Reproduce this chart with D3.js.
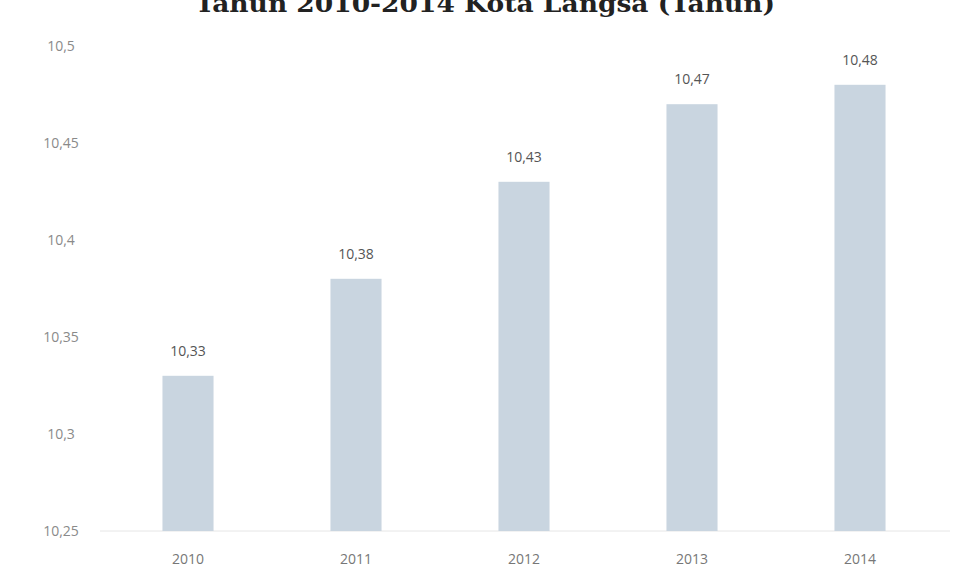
<!DOCTYPE html>
<html>
<head>
<meta charset="utf-8">
<script src="https://cdn.jsdelivr.net/npm/d3@7"></script>
<style>
  html, body { margin: 0; padding: 0; background: #fff; }
  svg { display: block; }
</style>
</head>
<body>
<svg id="chart" width="960" height="583"></svg>
<script>
// Angka harapan lama sekolah, Kota Langsa 2010-2014
const years = ["2010", "2011", "2012", "2013", "2014"];
const values = [10.33, 10.38, 10.43, 10.47, 10.48];
const yTicks = [10.25, 10.3, 10.35, 10.4, 10.45, 10.5];
const title = "Tahun 2010-2014 Kota Langsa (Tahun)";

const svg = d3.select("#chart");
const comma = v => String(v).replace(".", ",");

const x = d3.scaleBand()
  .domain(years)
  .range([104, 944])
  .paddingInner(0.696)
  .paddingOuter(0.348);

const y = d3.scaleLinear()
  .domain([10.25, 10.5])
  .range([531, 46]);

// Title (partly cut by the top edge)
svg.append("text")
  .attr("x", 485)
  .attr("y", 12)
  .attr("text-anchor", "middle")
  .attr("font-family", "DejaVu Serif")
  .attr("font-weight", "bold")
  .attr("font-size", 25)
  .attr("textLength", 580)
  .attr("lengthAdjust", "spacingAndGlyphs")
  .attr("fill", "#222")
  .text(title);

// Faint baseline
svg.append("line")
  .attr("x1", 100).attr("x2", 950)
  .attr("y1", y(10.25)).attr("y2", y(10.25))
  .attr("stroke", "#e6e6e6").attr("stroke-width", 1);

// Y axis labels
const yAxis = d3.axisLeft(y)
  .tickValues(yTicks)
  .tickSize(0)
  .tickPadding(0)
  .tickFormat(comma);
const gy = svg.append("g")
  .attr("transform", "translate(74,0)")
  .call(yAxis);
gy.select(".domain").remove();
gy.selectAll("text")
  .attr("text-anchor", "middle")
  .attr("x", -13)
  .attr("font-family", "Open Sans")
  .attr("font-size", 14)
  .attr("fill", "#8a8a8a");

// X axis labels
const xAxis = d3.axisBottom(x).tickSize(0).tickPadding(0);
const gx = svg.append("g")
  .attr("transform", "translate(0,554)")
  .call(xAxis);
gx.select(".domain").remove();
gx.selectAll("text")
  .attr("font-family", "Open Sans")
  .attr("font-size", 14)
  .attr("fill", "#777");

// Bars
svg.append("g").selectAll("rect")
  .data(values)
  .join("rect")
  .attr("x", (d, i) => x(years[i]))
  .attr("y", d => y(d))
  .attr("width", x.bandwidth())
  .attr("height", d => y(10.25) - y(d))
  .attr("fill", "#c9d5e0");

// Value labels
svg.append("g").selectAll("text")
  .data(values)
  .join("text")
  .attr("x", (d, i) => x(years[i]) + x.bandwidth() / 2)
  .attr("y", d => y(d) - 20)
  .attr("text-anchor", "middle")
  .attr("font-family", "Open Sans")
  .attr("font-size", 14)
  .attr("fill", "#555")
  .text(comma);
</script>
</body>
</html>
